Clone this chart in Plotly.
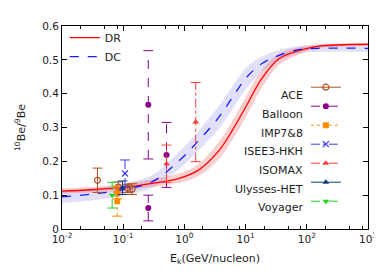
import plotly.graph_objects as go

# ---------------- model curves ----------------
E_MODEL = [0.01, 0.03, 0.1, 0.3, 0.8, 1.7, 3.6, 6, 10, 18.5, 35, 74, 150, 1000]
DR = [0.112, 0.116, 0.123, 0.135, 0.149, 0.174, 0.23, 0.29, 0.36, 0.445, 0.503, 0.527, 0.540, 0.546]
DR_LO = [0.105, 0.108, 0.114, 0.124, 0.136, 0.157, 0.205, 0.262, 0.328, 0.418, 0.485, 0.516, 0.534, 0.541]
DR_HI = [0.120, 0.124, 0.133, 0.147, 0.163, 0.192, 0.256, 0.318, 0.390, 0.470, 0.518, 0.537, 0.546, 0.550]
DC = [0.095, 0.103, 0.116, 0.140, 0.200, 0.261, 0.329, 0.387, 0.445, 0.489, 0.513, 0.530, 0.534, 0.534]
DC_LO = [0.076, 0.084, 0.098, 0.122, 0.176, 0.232, 0.295, 0.352, 0.412, 0.465, 0.497, 0.519, 0.524, 0.524]
DC_HI = [0.112, 0.120, 0.134, 0.160, 0.226, 0.290, 0.362, 0.420, 0.475, 0.510, 0.528, 0.541, 0.544, 0.544]

# ---------------- measurements ----------------
ACE_E = [0.038, 0.083, 0.118, 0.14]
ACE_V = [0.144, 0.124, 0.120, 0.118]
ACE_ERR = [0.036, 0.015, 0.012, 0.016]

BALLOON_E = [0.257, 0.257, 0.51]
BALLOON_V = [0.367, 0.062, 0.219]
BALLOON_ERR = [0.160, 0.038, 0.096]

IMP_E = [0.08, 0.08]
IMP_V = [0.105, 0.082]
IMP_ERR = [0.016, 0.044]

ISEE_E = [0.107]
ISEE_V = [0.164]
ISEE_ERR = [0.040]

ISOMAX_E = [0.51, 1.53]
ISOMAX_V = [0.193, 0.316]
ISOMAX_ERR = [0.055, 0.117]

ULYSSES_E = [0.0975]
ULYSSES_V = [0.122]
ULYSSES_ERR = [0.020]

VOYAGER_E = [0.066]
VOYAGER_V = [0.100]
VOYAGER_ERR = [0.038]

X_TICKS = [0.01, 0.1, 1, 10, 100, 1000]
X_TICKTEXT = ["10<sup>-2</sup>", "10<sup>-1</sup>", "10<sup>0</sup>", "10<sup>1</sup>",
              "10<sup>2</sup>", "10<sup>3</sup>"]
Y_TICKS = [0, 0.1, 0.2, 0.3, 0.4, 0.5, 0.6]
Y_TICKTEXT = ["0", "0.1", "0.2", "0.3", "0.4", "0.5", "0.6"]

FONT = "DejaVu Sans"

fig = go.Figure()

# bands
fig.add_trace(go.Scatter(x=E_MODEL, y=DC_LO, mode="lines", line=dict(width=0, shape="spline"),
                         showlegend=False, hoverinfo="skip"))
fig.add_trace(go.Scatter(x=E_MODEL, y=DC_HI, mode="lines", line=dict(width=0, shape="spline"),
                         fill="tonexty", fillcolor="rgba(60,60,230,0.16)", showlegend=False,
                         hoverinfo="skip"))
fig.add_trace(go.Scatter(x=E_MODEL, y=DR_LO, mode="lines", line=dict(width=0, shape="spline"),
                         showlegend=False, hoverinfo="skip"))
fig.add_trace(go.Scatter(x=E_MODEL, y=DR_HI, mode="lines", line=dict(width=0, shape="spline"),
                         fill="tonexty", fillcolor="rgba(245,60,60,0.25)", showlegend=False,
                         hoverinfo="skip"))
# central lines
fig.add_trace(go.Scatter(x=E_MODEL, y=DR, mode="lines", name="DR",
                         line=dict(color="#ff0000", width=1.3, shape="spline"), legend="legend"))
fig.add_trace(go.Scatter(x=E_MODEL, y=DC, mode="lines", name="DC",
                         line=dict(color="#1a1aff", width=1.3, dash="dash", shape="spline"),
                         legend="legend"))

series = [
    ("ACE", ACE_E, ACE_V, ACE_ERR, "#b0501e", "circle-open", "solid"),
    ("Balloon", BALLOON_E, BALLOON_V, BALLOON_ERR, "#8b008b", "circle", "dash"),
    ("IMP7&8", IMP_E, IMP_V, IMP_ERR, "#ff8c00", "square", "dot"),
    ("ISEE3-HKH", ISEE_E, ISEE_V, ISEE_ERR, "#3a3aff", "x-thin-open", "dashdot"),
    ("ISOMAX", ISOMAX_E, ISOMAX_V, ISOMAX_ERR, "#ff3c3c", "triangle-up", "dashdot"),
    ("Ulysses-HET", ULYSSES_E, ULYSSES_V, ULYSSES_ERR, "#0b3f80", "triangle-up", "solid"),
    ("Voyager", VOYAGER_E, VOYAGER_V, VOYAGER_ERR, "#1fd41f", "triangle-down", "dash"),
]

for name, xs, vs, es, color, sym, dash in series:
    bx, by = [], []
    cx, cy = [], []
    for x, v, e in zip(xs, vs, es):
        bx += [x, x, None]
        by += [v - e, v + e, None]
        cx += [x, x]
        cy += [v - e, v + e]
    fig.add_trace(go.Scatter(x=bx, y=by, mode="lines", line=dict(color=color, width=1, dash=dash),
                             showlegend=False, hoverinfo="skip"))
    fig.add_trace(go.Scatter(x=cx, y=cy, mode="markers",
                             marker=dict(symbol="line-ew", size=7, line=dict(color=color, width=1)),
                             showlegend=False, hoverinfo="skip"))
    mk = dict(symbol=sym, size=6, color=color)
    if sym.endswith("open"):
        mk["line"] = dict(color=color, width=1.2)
    fig.add_trace(go.Scatter(x=xs, y=vs, mode="markers", marker=mk, showlegend=False, name=name))
    # legend key
    fig.add_trace(go.Scatter(x=[None], y=[None], mode="lines+markers", name=" ",
                             line=dict(color=color, width=1, dash=dash), marker=mk,
                             legend="legend2"))

# labels for second legend (right aligned, left of keys)
label_y0 = 0.656
for i, (name, *_rest) in enumerate(series):
    fig.add_annotation(x=0.795, y=label_y0 - i * 19 / 206.4, xref="paper", yref="paper",
                       text=name, showarrow=False, xanchor="right", yanchor="middle",
                       font=dict(family=FONT, size=11, color="#222"))

axis_common = dict(showline=True, linecolor="black", linewidth=1, mirror="ticks",
                   ticks="inside", tickcolor="black", ticklen=5, showgrid=False, zeroline=False,
                   tickfont=dict(family=FONT, size=10.5, color="#222"))

fig.update_xaxes(type="log", range=[-2, 3], tickvals=X_TICKS, ticktext=X_TICKTEXT,
                 minor=dict(tickvals=[m * 10 ** k for k in range(-2, 3) for m in (2, 5, 8)],
                            ticks="inside", ticklen=3, tickcolor="black"),
                 title=dict(text="E<sub>k</sub>(GeV/nucleon)", font=dict(family=FONT, size=11,
                                                                         color="#222"),
                            standoff=10),
                 **axis_common)
fig.update_yaxes(range=[0, 0.6], tickvals=Y_TICKS, ticktext=Y_TICKTEXT,
                 title=dict(text="<sup>10</sup>Be/<sup>9</sup>Be",
                            font=dict(family=FONT, size=11, color="#222"), standoff=14),
                 **axis_common)

fig.update_layout(
    width=382, height=278,
    margin=dict(l=54, r=22, t=15, b=57),
    plot_bgcolor="white", paper_bgcolor="white",
    font=dict(family=FONT, size=11, color="#222"),
    legend=dict(x=0.009, y=1.014, xanchor="left", yanchor="top", bgcolor="rgba(0,0,0,0)",
                font=dict(family=FONT, size=11, color="#222"), tracegroupgap=0,
                traceorder="normal"),
    legend2=dict(x=0.797, y=0.770, xanchor="left", yanchor="top", bgcolor="rgba(0,0,0,0)",
                 font=dict(family=FONT, size=11, color="#222"), tracegroupgap=0,
                 traceorder="normal"),
)

fig.write_html("out.html")
